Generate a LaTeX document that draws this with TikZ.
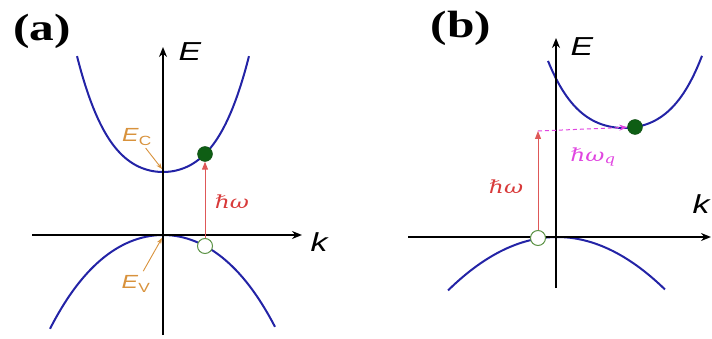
\documentclass[tikz,border=0pt]{standalone}
\usepackage{fontspec}
\setsansfont{Liberation Sans}
\newfontfamily\panelfont{Liberation Serif}
\newfontfamily\quantfont{DejaVu Serif}
\usepackage{tikz}
\usetikzlibrary{arrows.meta}
\definecolor{bandblue}{HTML}{2323A6}
\definecolor{levelorange}{HTML}{D8923C}
\definecolor{photonred}{HTML}{D83A3A}
\definecolor{phononpink}{HTML}{E045E0}
\definecolor{electrongreen}{HTML}{0E5E14}
\definecolor{holegreen}{HTML}{5E9448}

\begin{document}
\begin{tikzpicture}[x=1pt,y=-1pt,
    txt/.style={inner sep=1pt,xscale=1.3},
    panel/.style={txt,font=\panelfont\fontsize{38}{38}\selectfont\bfseries},
    axlabel/.style={txt,font=\sffamily\itshape\fontsize{26}{26}\selectfont},
    levellabel/.style={txt,text=levelorange,font=\sffamily\fontsize{19}{19}\selectfont},
    photonlabel/.style={txt,text=photonred,font=\quantfont\itshape\fontsize{18}{18}\selectfont},
    phononlabel/.style={txt,text=phononpink,font=\quantfont\itshape\fontsize{18}{18}\selectfont},
    axis/.style={line width=2pt,-{Stealth[length=10pt,width=8pt]}},
    band/.style={draw=bandblue,line width=2pt},
    electron/.style={circle,inner sep=0pt,minimum size=15pt,fill=electrongreen,draw=electrongreen!80!black},
    hole/.style={circle,inner sep=0pt,minimum size=15pt,fill=white,draw=holegreen,line width=1pt},
    levelarrow/.style={draw=levelorange,line width=0.9pt,-{Stealth[length=6pt,width=4.5pt]}},
    photon/.style={draw=photonred!85!white,line width=1pt,-{Triangle[length=8pt,width=6pt]}},
    phonon/.style={draw=phononpink,line width=1pt,dash pattern=on 4pt off 3pt,-{Stealth[length=8pt,width=6pt]}}
]
\useasboundingbox (0,0) rectangle (712,339);

\node[panel] (a-lbl) at (42,31) {(a)};
\coordinate (a-k0) at (32,235);
\coordinate (a-k1) at (302,235);
\coordinate (a-E0) at (163,335);
\coordinate (a-E1) at (163,47);
\draw[band] plot[domain=-8.6:8.6,samples=60,smooth] ({163+10*\x},{172-0.849*(\x)*(\x)-0.0097*(\x)*(\x)*(\x)*(\x)});
\draw[band] plot[domain=-11.3:11.2,samples=60,smooth] ({163+10*\x},{235+0.606*(\x)*(\x)+0.001*(\x)*(\x)*(\x)*(\x)});
\draw[axis] (a-k0) -- (a-k1);
\draw[axis] (a-E0) -- (a-E1);
\node[axlabel] (a-E) at (190,52) {E};
\node[axlabel] (a-k) at (319,242) {k};
\node[electron] (a-el) at (205,154) {};
\node[hole] (a-ho) at (205,246) {};
\draw[photon] (a-ho) -- (a-el);
\node[photonlabel] (a-hw) at (232,202) {ℏω};
\node[levellabel] (a-EC) at (137,137) {\textit{E}\textsubscript{C}};
\coordinate (a-cbmin) at (162,169);
\draw[levelarrow,shorten <=2pt] (a-EC) -- (a-cbmin);
\node[levellabel] (a-EV) at (136,284) {\textit{E}\textsubscript{V}};
\coordinate (a-vbmax) at (162,238);
\draw[levelarrow,shorten <=4pt] (a-EV) -- (a-vbmax);

\node[panel] (b-lbl) at (461,28) {(b)};
\coordinate (b-k0) at (408,237);
\coordinate (b-k1) at (711,237);
\coordinate (b-E0) at (556,288);
\coordinate (b-E1) at (556,38);
\draw[band] plot[domain=-7.6:7.8,samples=60,smooth] ({624+10*\x},{128-0.7*(\x)*(\x)-0.008*(\x)*(\x)*(\x)*(\x)});
\draw[band] plot[domain=-10.9:10.8,samples=60,smooth] ({557+10*\x},{237+0.45*(\x)*(\x)});
\draw[axis] (b-k0) -- (b-k1);
\draw[axis] (b-E0) -- (b-E1);
\node[axlabel] (b-E) at (582,47) {E};
\node[axlabel] (b-k) at (701,204) {k};
\node[electron] (b-el) at (635,127) {};
\node[hole] (b-ho) at (538,238) {};
\coordinate (b-virt) at (538,131);
\draw[photon] (b-ho) -- (b-virt);
\draw[phonon] (b-virt) -- (b-el);
\node[photonlabel] (b-hw) at (506,187) {ℏω};
\node[phononlabel] (b-hwq) at (593,157) {ℏω\textsubscript{q}};
\end{tikzpicture}
\end{document}
